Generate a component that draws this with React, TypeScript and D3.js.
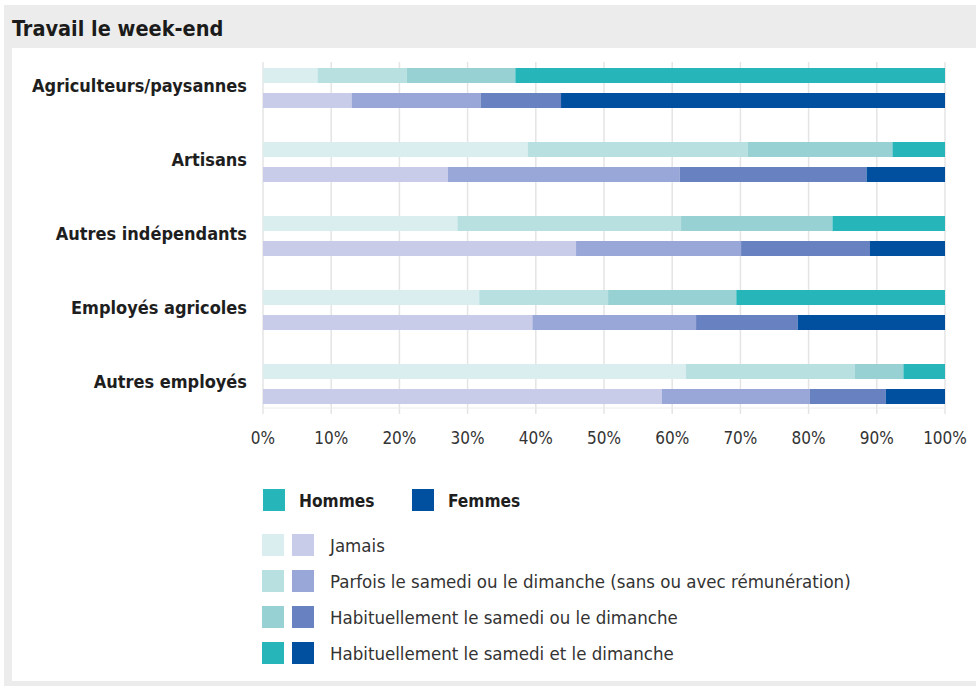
import React from "react";
import * as d3 from "d3";

const categories = [
  "Agriculteurs/paysannes",
  "Artisans",
  "Autres indépendants",
  "Employés agricoles",
  "Autres employés",
];
const sexes = ["Hommes", "Femmes"];
const levels = [
  "Jamais",
  "Parfois le samedi ou le dimanche (sans ou avec rémunération)",
  "Habituellement le samedi ou le dimanche",
  "Habituellement le samedi et le dimanche",
];
// percentages per category, in the order of `levels`
const hommesValues = [
  [8.0, 13.1, 15.9, 63.0],
  [38.8, 32.3, 21.2, 7.7],
  [28.5, 32.8, 22.2, 16.5],
  [31.7, 18.9, 18.8, 30.6],
  [62.0, 24.8, 7.1, 6.1],
];
const femmesValues = [
  [13.0, 18.9, 11.8, 56.3],
  [27.1, 34.0, 27.4, 11.5],
  [45.9, 24.2, 18.9, 11.0],
  [39.5, 24.0, 14.9, 21.6],
  [58.5, 21.7, 11.1, 8.7],
];
const hommesColors = ["#daeeef", "#b9e0e1", "#97d1d3", "#26b5b9"];
const femmesColors = ["#c8cce9", "#98a7d7", "#6881c1", "#00509f"];
const title = "Travail le week-end";

const FONT = "'DejaVu Sans Condensed', 'Liberation Sans Narrow', 'Liberation Sans', sans-serif";

export default function App() {
  const W = 976;
  const H = 686;
  const x = d3.scaleLinear().domain([0, 100]).range([263, 945]);
  const y = d3.scaleBand<string>().domain(categories).range([56, 56 + 74 * categories.length]);
  const ySex = d3.scaleBand<string>().domain(sexes).range([12, 52]).paddingInner(0.4);

  const rows = categories.flatMap((c, i) =>
    sexes.map((s) => {
      const vals = s === "Hommes" ? hommesValues[i] : femmesValues[i];
      const r: any = { category: c, sex: s };
      levels.forEach((l, j) => (r[l] = vals[j]));
      return r;
    })
  );
  const series = d3.stack<any>().keys(levels)(rows);
  const ticks = x.ticks(10);
  const colorFor = (sex: string, j: number) => (sex === "Hommes" ? hommesColors[j] : femmesColors[j]);

  return (
    <svg
      width={W}
      height={H}
      style={{ position: "absolute", left: 0, top: 0, fontFamily: FONT }}
    >
      <rect x={0} y={0} width={W} height={H} fill="#fff" />
      <rect x={4} y={5} width={W - 4} height={H - 5} fill="#ececec" />
      <rect x={12} y={48} width={W - 12} height={633} fill="#fff" />
      <text x={12} y={36} fontSize={21.5} fontWeight="bold" fill="#1b1b1b">
        {title}
      </text>

      {/* gridlines */}
      {ticks.map((t) => (
        <line key={"g" + t} x1={x(t)} x2={x(t)} y1={62} y2={414} stroke="#e4e4e4" strokeWidth={1.5} />
      ))}
      <line x1={x(0)} x2={x(100)} y1={408} y2={408} stroke="#ececec" strokeWidth={1} />

      {/* bars */}
      {series.map((s, j) =>
        s.map((d: any, k: number) => {
          const row = d.data;
          const y0 = (y(row.category) as number) + (ySex(row.sex) as number);
          return (
            <rect
              key={j + "-" + k}
              x={x(d[0])}
              y={y0}
              width={x(d[1]) - x(d[0])}
              height={ySex.bandwidth()}
              fill={colorFor(row.sex, j)}
            />
          );
        })
      )}

      {/* category labels */}
      {categories.map((c) => (
        <text
          key={c}
          x={247}
          y={(y(c) as number) + 32 + 4}
          textAnchor="end"
          fontSize={18}
          fontWeight="bold"
          fill="#1e1e1e"
        >
          {c}
        </text>
      ))}

      {/* axis labels */}
      {ticks.map((t) => (
        <text key={"t" + t} x={x(t)} y={444} textAnchor="middle" fontSize={17} fill="#333">
          {t + "%"}
        </text>
      ))}

      {/* legend: sexes */}
      {sexes.map((s, i) => {
        const lx = 263 + i * 149;
        return (
          <g key={s}>
            <rect x={lx} y={489} width={22} height={22} fill={i === 0 ? hommesColors[3] : femmesColors[3]} />
            <text x={lx + 36} y={507} fontSize={17.2} fontWeight="bold" fill="#1e1e1e">
              {s}
            </text>
          </g>
        );
      })}

      {/* legend: levels */}
      {levels.map((l, j) => {
        const ly = 534 + j * 36;
        return (
          <g key={l}>
            <rect x={262} y={ly} width={22} height={22} fill={hommesColors[j]} />
            <rect x={292} y={ly} width={22} height={22} fill={femmesColors[j]} />
            <text x={330} y={ly + 18} fontSize={18.5} fill="#333">
              {l}
            </text>
          </g>
        );
      })}
    </svg>
  );
}
